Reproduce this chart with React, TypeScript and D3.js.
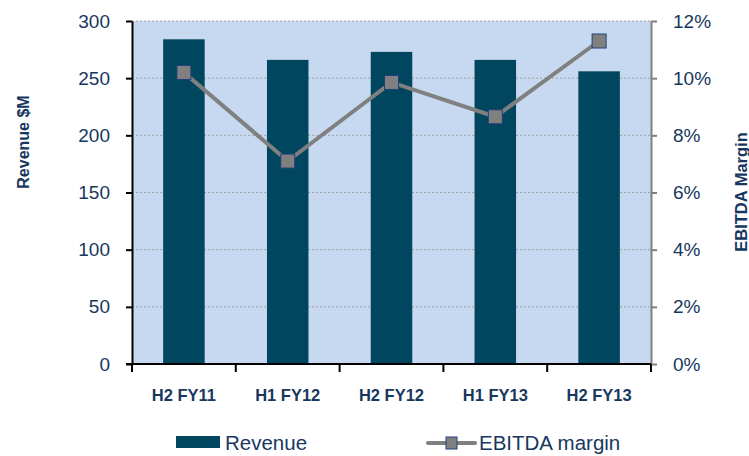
import React, { useEffect, useRef } from 'react';
import * as d3 from 'd3';

const periods = ['H2 FY11', 'H1 FY12', 'H2 FY12', 'H1 FY13', 'H2 FY13'];
const revenue = [284, 266, 273, 266, 256];
const ebitdaMargin = [10.2, 7.1, 9.85, 8.65, 11.3];
const revenueTicks = [0, 50, 100, 150, 200, 250, 300];
const marginTicks = [0, 2, 4, 6, 8, 10, 12];

const textColor = '#17375e';
const barColor = '#00465e';
const plotBg = '#c6d9f0';
const lineColor = '#808080';

const App = () => {
  const ref = useRef<SVGSVGElement>(null);

  useEffect(() => {
    drawChart();
  }, []);

  const drawChart = () => {
    const svg = d3.select(ref.current);
    svg.selectAll('*').remove();

    const margin = { top: 21, left: 132, right: 98, bottom: 92 };
    const width = 749 - margin.left - margin.right;
    const height = 456 - margin.top - margin.bottom;
    const font = 'Arial, "Liberation Sans", sans-serif';

    const g = svg.append('g').attr('transform', `translate(${margin.left},${margin.top})`);

    const x = d3.scaleBand().domain(periods).range([0, width]).paddingInner(0.6).paddingOuter(0.3);
    const yLeft = d3.scaleLinear().domain([0, 300]).range([height, 0]);
    const yRight = d3.scaleLinear().domain([0, 12]).range([height, 0]);

    g.append('rect').attr('width', width).attr('height', height).attr('fill', plotBg);

    // dotted gridlines
    g.selectAll('.grid')
      .data(revenueTicks.slice(1))
      .enter()
      .append('line')
      .attr('x1', 0)
      .attr('x2', width)
      .attr('y1', d => yLeft(d))
      .attr('y2', d => yLeft(d))
      .attr('stroke', '#a0a0a0')
      .attr('stroke-width', 1)
      .attr('stroke-dasharray', '2,2');

    g.selectAll('.bar')
      .data(periods)
      .enter()
      .append('rect')
      .attr('x', d => x(d)!)
      .attr('y', (d, i) => yLeft(revenue[i]))
      .attr('width', x.bandwidth())
      .attr('height', (d, i) => height - yLeft(revenue[i]))
      .attr('fill', barColor);

    const cx = (d: string) => x(d)! + x.bandwidth() / 2;
    const line = d3
      .line<number>()
      .x((d, i) => cx(periods[i]))
      .y(d => yRight(d));

    g.append('path')
      .datum(ebitdaMargin)
      .attr('d', line)
      .attr('fill', 'none')
      .attr('stroke', lineColor)
      .attr('stroke-width', 4);

    g.selectAll('.pt')
      .data(ebitdaMargin)
      .enter()
      .append('rect')
      .attr('x', (d, i) => cx(periods[i]) - 7)
      .attr('y', d => yRight(d) - 7)
      .attr('width', 14)
      .attr('height', 14)
      .attr('fill', lineColor)
      .attr('stroke', '#1f3f7a')
      .attr('stroke-width', 1);

    // left axis
    const left = g.append('g').call(d3.axisLeft(yLeft).tickValues(revenueTicks).tickSize(6).tickSizeOuter(0).tickPadding(16));
    left.select('.domain').attr('stroke', '#000').attr('stroke-width', 2);
    left.selectAll('.tick line').attr('stroke', '#000').attr('stroke-width', 2);
    left.selectAll('.tick text').attr('fill', textColor).attr('font-size', 19).attr('font-family', font);

    // right axis
    const right = g
      .append('g')
      .attr('transform', `translate(${width},0)`)
      .call(
        d3
          .axisRight(yRight)
          .tickValues(marginTicks)
          .tickFormat(d => `${d}%`)
          .tickSize(6)
          .tickSizeOuter(0)
          .tickPadding(16)
      );
    right.select('.domain').attr('stroke', '#808080').attr('stroke-width', 2);
    right.selectAll('.tick line').attr('stroke', '#808080').attr('stroke-width', 2);
    right.selectAll('.tick text').attr('fill', textColor).attr('font-size', 19).attr('font-family', font);

    // bottom axis: ticks at category boundaries
    const bottom = g.append('g').attr('transform', `translate(0,${height})`);
    bottom
      .append('line')
      .attr('x1', -6)
      .attr('x2', width)
      .attr('stroke', '#000')
      .attr('stroke-width', 2);
    const step = x.step();
    bottom
      .selectAll('.btick')
      .data(d3.range(periods.length + 1))
      .enter()
      .append('line')
      .attr('x1', i => i * step)
      .attr('x2', i => i * step)
      .attr('y1', 0)
      .attr('y2', 8)
      .attr('stroke', '#000')
      .attr('stroke-width', 2);
    bottom
      .selectAll('.blabel')
      .data(periods)
      .enter()
      .append('text')
      .attr('x', d => cx(d))
      .attr('y', 37)
      .attr('text-anchor', 'middle')
      .attr('fill', textColor)
      .attr('font-size', 16.5)
      .attr('font-weight', 'bold')
      .attr('font-family', font)
      .text(d => d);

    // axis titles
    svg
      .append('text')
      .attr('transform', 'translate(29,142) rotate(-90)')
      .attr('text-anchor', 'middle')
      .attr('fill', textColor)
      .attr('font-size', 16)
      .attr('font-weight', 'bold')
      .attr('font-family', font)
      .text('Revenue $M');
    svg
      .append('text')
      .attr('transform', 'translate(747,192) rotate(-90)')
      .attr('text-anchor', 'middle')
      .attr('fill', textColor)
      .attr('font-size', 16.5)
      .attr('font-weight', 'bold')
      .attr('font-family', font)
      .text('EBITDA Margin');

    // legend
    const leg = svg.append('g');
    leg.append('rect').attr('x', 176).attr('y', 436).attr('width', 44).attr('height', 12).attr('fill', barColor);
    leg
      .append('text')
      .attr('x', 225)
      .attr('y', 450)
      .attr('fill', textColor)
      .attr('font-size', 20.5)
      .attr('font-family', font)
      .text('Revenue');
    leg
      .append('line')
      .attr('x1', 428)
      .attr('x2', 475)
      .attr('y1', 443)
      .attr('y2', 443)
      .attr('stroke', lineColor)
      .attr('stroke-width', 4)
      .attr('stroke-linecap', 'round');
    leg
      .append('rect')
      .attr('x', 446)
      .attr('y', 437)
      .attr('width', 11)
      .attr('height', 12)
      .attr('fill', lineColor)
      .attr('stroke', '#1f3f7a');
    leg
      .append('text')
      .attr('x', 479)
      .attr('y', 450)
      .attr('fill', textColor)
      .attr('font-size', 20.5)
      .attr('font-family', font)
      .text('EBITDA margin');
  };

  return <svg ref={ref} width={749} height={456} style={{ position: 'absolute', left: 0, top: 0 }} />;
};

export default App;
